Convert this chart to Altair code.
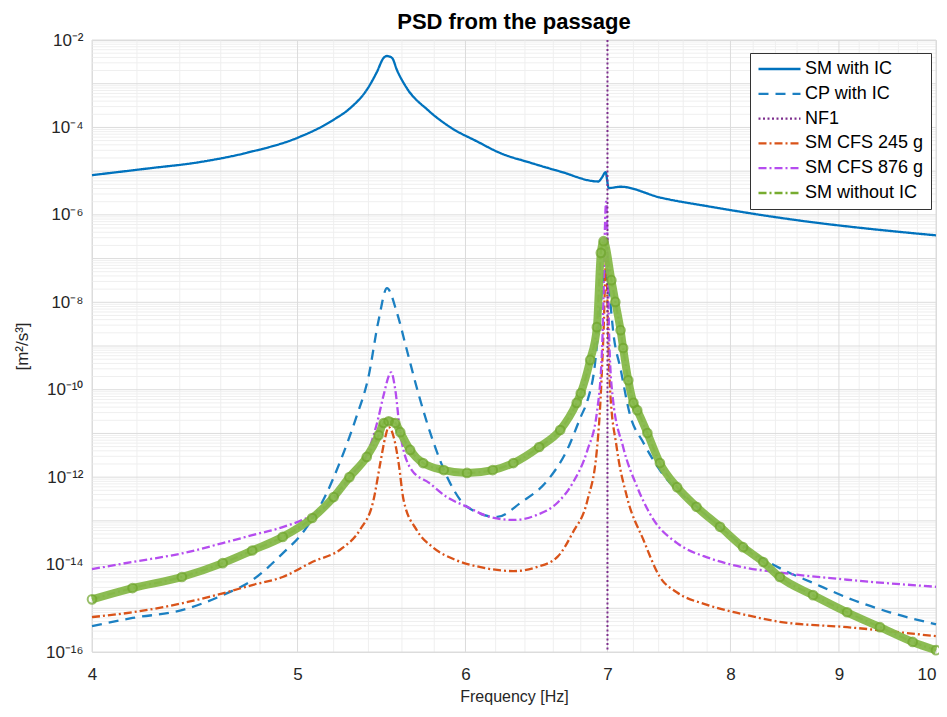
import altair as alt
import pandas as pd

SERIES = ["SM with IC", "CP with IC", "NF1", "SM CFS 245 g", "SM CFS 876 g", "SM without IC"]
COLORS = ["#0072BD", "#1C80C2", "#7E2F8E", "#D95319", "#B54CEF", "#77AC30"]
DASHES = [[1, 0], [10, 7], [2, 2.5], [8, 3, 2, 3], [8, 3, 2, 3], [8, 3, 2, 3]]

sm_ic_f = [4.00, 4.25, 4.50, 4.75, 5.00, 5.20, 5.30, 5.39, 5.45, 5.49, 5.51, 5.54, 5.57, 5.63, 5.76,
           5.90, 6.08, 6.23, 6.44, 6.65, 6.93, 6.96, 6.985, 7.01, 7.10, 7.41, 7.82, 8.72, 9.30, 10.0]
sm_ic_v = [8.1e-6, 1.15e-5, 1.62e-5, 2.75e-5, 5.8e-5, 1.5e-4, 2.9e-4, 7.2e-4, 1.86e-3, 3.9e-3, 4.3e-3,
           3.9e-3, 2.05e-3, 7.9e-4, 2.5e-4, 1.02e-4, 4.7e-5, 2.6e-5, 1.55e-5, 9.8e-6, 5.8e-6, 7.3e-6,
           9.5e-6, 4.1e-6, 4.4e-6, 2.5e-6, 1.55e-6, 6.9e-7, 4.8e-7, 3.4e-7]

cp_ic_f = [4.00, 4.18, 4.41, 4.61, 4.76, 4.92, 5.03, 5.15, 5.24, 5.33, 5.40, 5.46, 5.51, 5.57, 5.63,
           5.70, 5.79, 5.90, 6.01, 6.21, 6.37, 6.56, 6.70, 6.80, 6.85, 6.90, 6.95, 6.98, 7.01, 7.05,
           7.10, 7.17, 7.28, 7.41, 7.74, 8.26, 8.44, 8.75, 9.14, 9.51, 10.0]
cp_ic_v = [3.9e-16, 6.0e-16, 9.1e-16, 2.0e-15, 4.4e-15, 1.8e-14, 5.5e-14, 3.5e-13, 2.45e-12, 2.4e-11,
           1.95e-10, 3.9e-9, 2.1e-8, 5.7e-9, 8.1e-10, 8.4e-11, 7.1e-12, 7.4e-13, 2.1e-13, 1.23e-13,
           2.6e-13, 8.5e-13, 4.2e-12, 2.4e-11, 5.7e-11, 2.8e-10, 1.0e-8, 6.0e-8, 2.0e-8, 1.5e-9,
           3.0e-10, 2.9e-11, 6.0e-12, 1.45e-12, 1.8e-13, 1.5e-14, 8.3e-15, 3.8e-15, 1.55e-15, 8.1e-16,
           4.3e-16]

nf1_f = [7.0]

cfs245_f = [4.00, 4.18, 4.41, 4.61, 4.76, 4.92, 5.08, 5.25, 5.35, 5.43, 5.47, 5.50, 5.52, 5.55, 5.58,
            5.61, 5.69, 5.79, 5.94, 6.10, 6.32, 6.48, 6.63, 6.74, 6.85, 6.92, 6.94, 6.97, 6.99, 7.005,
            7.02, 7.07, 7.15, 7.28, 7.41, 7.55, 7.80, 8.10, 8.44, 9.08, 10.0]
cfs245_v = [6.3e-16, 8.1e-16, 1.3e-15, 2.2e-15, 3.4e-15, 5.2e-15, 1.14e-14, 2.4e-14, 6.2e-14, 3.0e-13,
            2.1e-12, 8.3e-12, 1.4e-11, 8.3e-12, 2.1e-12, 3.0e-13, 6.2e-14, 2.5e-14, 1.26e-14, 8.7e-15,
            7.1e-15, 8.7e-15, 1.5e-14, 5.3e-14, 3.0e-13, 4.2e-12, 2.4e-11, 2.0e-9, 1.0e-7, 2.0e-9,
            1.0e-10, 4.9e-12, 3.5e-13, 3.6e-14, 5.2e-15, 2.3e-15, 1.2e-15, 7.4e-16, 4.9e-16, 3.7e-16,
            2.3e-16]

cfs876_f = [4.00, 4.18, 4.41, 4.61, 4.76, 4.92, 5.08, 5.20, 5.30, 5.40, 5.46, 5.49, 5.535, 5.56, 5.59,
            5.66, 5.77, 5.88, 6.01, 6.16, 6.32, 6.48, 6.63, 6.74, 6.85, 6.92, 6.96, 6.99, 7.015, 7.04,
            7.12, 7.23, 7.36, 7.55, 7.82, 8.11, 8.41, 9.08, 10.0]
cfs876_v = [7.9e-15, 1.15e-14, 1.8e-14, 3.1e-14, 4.7e-14, 7.2e-14, 1.35e-13, 3.0e-13, 1.1e-12, 4.0e-12,
            2.4e-11, 7.6e-11, 2.5e-10, 9.8e-11, 1.0e-11, 1.45e-12, 7.3e-13, 3.5e-13, 2.1e-13, 1.23e-13,
            1.05e-13, 1.35e-13, 2.6e-13, 7.3e-13, 4.2e-12, 3.0e-11, 1.0e-9, 2.0e-6, 1.0e-9, 6.8e-11,
            4.9e-12, 5.9e-13, 1.05e-13, 3.1e-14, 1.4e-14, 8.7e-15, 6.7e-15, 4.5e-15, 3.1e-15]

sm_noic_f = [4.00, 4.18, 4.41, 4.61, 4.76, 4.92, 5.08, 5.20, 5.29, 5.39, 5.46, 5.49, 5.52, 5.56, 5.59,
             5.65, 5.73, 5.86, 6.01, 6.18, 6.32, 6.50, 6.65, 6.77, 6.80, 6.87, 6.92, 6.95, 6.97, 7.03,
             7.06, 7.10, 7.12, 7.16, 7.20, 7.23, 7.31, 7.41, 7.55, 7.71, 7.91, 8.11, 8.29, 8.44, 8.75,
             9.08, 9.41, 9.75, 10.0]
sm_noic_v = [1.6e-15, 2.9e-15, 5.2e-15, 1.08e-14, 2.1e-14, 4.3e-14, 1.16e-13, 3.5e-13, 1.0e-12, 2.9e-12,
             9.1e-12, 1.73e-11, 1.9e-11, 1.73e-11, 1.07e-11, 4.2e-12, 2.1e-12, 1.45e-12, 1.25e-12,
             1.45e-12, 2.1e-12, 4.9e-12, 1.2e-11, 5.0e-11, 8.3e-11, 4.8e-10, 2.7e-9, 1.35e-7, 2.5e-7,
             3.2e-8, 1.02e-8, 2.3e-9, 9.0e-10, 1.65e-10, 5.0e-11, 3.4e-11, 1.02e-11, 2.1e-12, 5.9e-13,
             2.1e-13, 7.3e-14, 2.5e-14, 1.14e-14, 5.2e-15, 2.0e-15, 8.1e-16, 3.7e-16, 1.7e-16, 1.1e-16]

x_major = [4, 5, 6, 7, 8, 9, 10]
x_minor = [4.2, 4.4, 4.6, 4.8, 5.2, 5.4, 5.6, 5.8, 6.2, 6.4, 6.6, 6.8, 7.2, 7.4, 7.6, 7.8,
           8.2, 8.4, 8.6, 8.8, 9.2, 9.4, 9.6, 9.8]
y_exps = list(range(-16, -1))
y_major = [10.0 ** e for e in y_exps]
y_minor = [k * 10.0 ** e for e in range(-16, -2) for k in range(2, 10)]
y_label_vals = [10.0 ** e for e in range(-16, -1, 2)]

FONT = "Liberation Sans"

rows = []
for name, fs, vs in [("SM with IC", sm_ic_f, sm_ic_v), ("CP with IC", cp_ic_f, cp_ic_v),
                     ("SM CFS 245 g", cfs245_f, cfs245_v), ("SM CFS 876 g", cfs876_f, cfs876_v),
                     ("SM without IC", sm_noic_f, sm_noic_v)]:
    for i, (f, v) in enumerate(zip(fs, vs)):
        rows.append({"series": name, "f": f, "v": v, "i": i})
df = pd.DataFrame(rows)
df_green = df[df.series == "SM without IC"]
df_nf1 = pd.DataFrame({"series": ["NF1"] * len(nf1_f), "f": nf1_f})

sup = str.maketrans("-0123456789", "⁻⁰¹²³⁴⁵⁶⁷⁸⁹")
labels_js = "[" + ",".join("'10" + str(e).translate(sup) + "'" for e in y_exps) + "]"
y_label_expr = labels_js + "[round(log(datum.value)/LN10)+16]"

xscale = alt.Scale(type="log", domain=[4, 10], nice=False)
yscale = alt.Scale(type="log", domain=[1e-16, 1e-2], nice=False)
xax = alt.Axis(values=x_major, format="d", title="Frequency [Hz]", grid=False, ticks=False,
               domain=False, labelFontSize=17, labelPadding=14, titleFontSize=16, titlePadding=6,
               labelFont=FONT, titleFont=FONT, labelColor="#262626", titleColor="#262626",
               titleFontWeight="normal", labelFlush=False,
               labelAlign={"condition": {"test": "datum.value >= 10", "value": "right"}, "value": "center"})
yax = alt.Axis(values=y_label_vals, labelExpr=y_label_expr, title="[m²/s³]", grid=False, ticks=False,
               domain=False, labelFontSize=17, labelPadding=9, titleFontSize=17, titlePadding=14,
               labelFont=FONT, titleFont=FONT, labelColor="#262626", titleColor="#262626",
               titleFontWeight="normal")

X = alt.X("f:Q", scale=xscale, axis=xax)
Y = alt.Y("v:Q", scale=yscale, axis=yax)

color = alt.Color("series:N", scale=alt.Scale(domain=SERIES, range=COLORS),
                  legend=alt.Legend(orient="none", legendX=658, legendY=13, title=None,
                                    symbolType="stroke", symbolSize=1764, symbolStrokeWidth=2.3,
                                    labelFontSize=18, labelFont=FONT, labelColor="#000",
                                    fillColor="white", strokeColor="#333333", padding=7,
                                    rowPadding=6.8, clipHeight=18, labelOffset=3, labelLimit=300))
dash = alt.StrokeDash("series:N", scale=alt.Scale(domain=SERIES, range=DASHES), legend=None)

g_ymin = alt.Chart(pd.DataFrame({"v": y_minor})).mark_rule(color="#efefef", strokeWidth=1).encode(y=Y)
g_xmin = alt.Chart(pd.DataFrame({"f": x_minor})).mark_rule(color="#efefef", strokeWidth=1).encode(x=X)
g_ymaj = alt.Chart(pd.DataFrame({"v": y_major})).mark_rule(color="#dcdcdc", strokeWidth=1).encode(y=Y)
g_xmaj = alt.Chart(pd.DataFrame({"f": x_major})).mark_rule(color="#dcdcdc", strokeWidth=1).encode(x=X)

lines = alt.Chart(df).mark_line(strokeWidth=2.3, interpolate="monotone").encode(
    x=X, y=Y, color=color, strokeDash=dash, detail="series:N", order="i:Q")
nf1 = alt.Chart(df_nf1).mark_rule(strokeWidth=2).encode(x=X, color=color, strokeDash=dash)
band = alt.Chart(df_green).mark_line(strokeWidth=8, interpolate="monotone", color="#86B84A",
                                     opacity=0.95).encode(x=X, y=Y, order="i:Q")
pts = alt.Chart(df_green).mark_point(shape="circle", size=75, filled=False, color="#6FA52C",
                                     strokeWidth=2).encode(x=X, y=Y)

chart = alt.layer(g_ymin, g_xmin, g_ymaj, g_xmaj, lines, nf1, band, pts).properties(
    width=844, height=612,
    title=alt.TitleParams("PSD from the passage", fontSize=22, fontWeight="bold", font=FONT,
                          offset=9, dy=12, anchor="middle", color="#000"),
    autosize=alt.AutoSizeParams(type="none"),
    padding={"left": 84, "top": 32, "right": 3, "bottom": 54},
).configure_view(stroke="#262626", strokeWidth=1).configure(background="white")

chart.save("out.html", embed_options={"renderer": "svg", "actions": False})
